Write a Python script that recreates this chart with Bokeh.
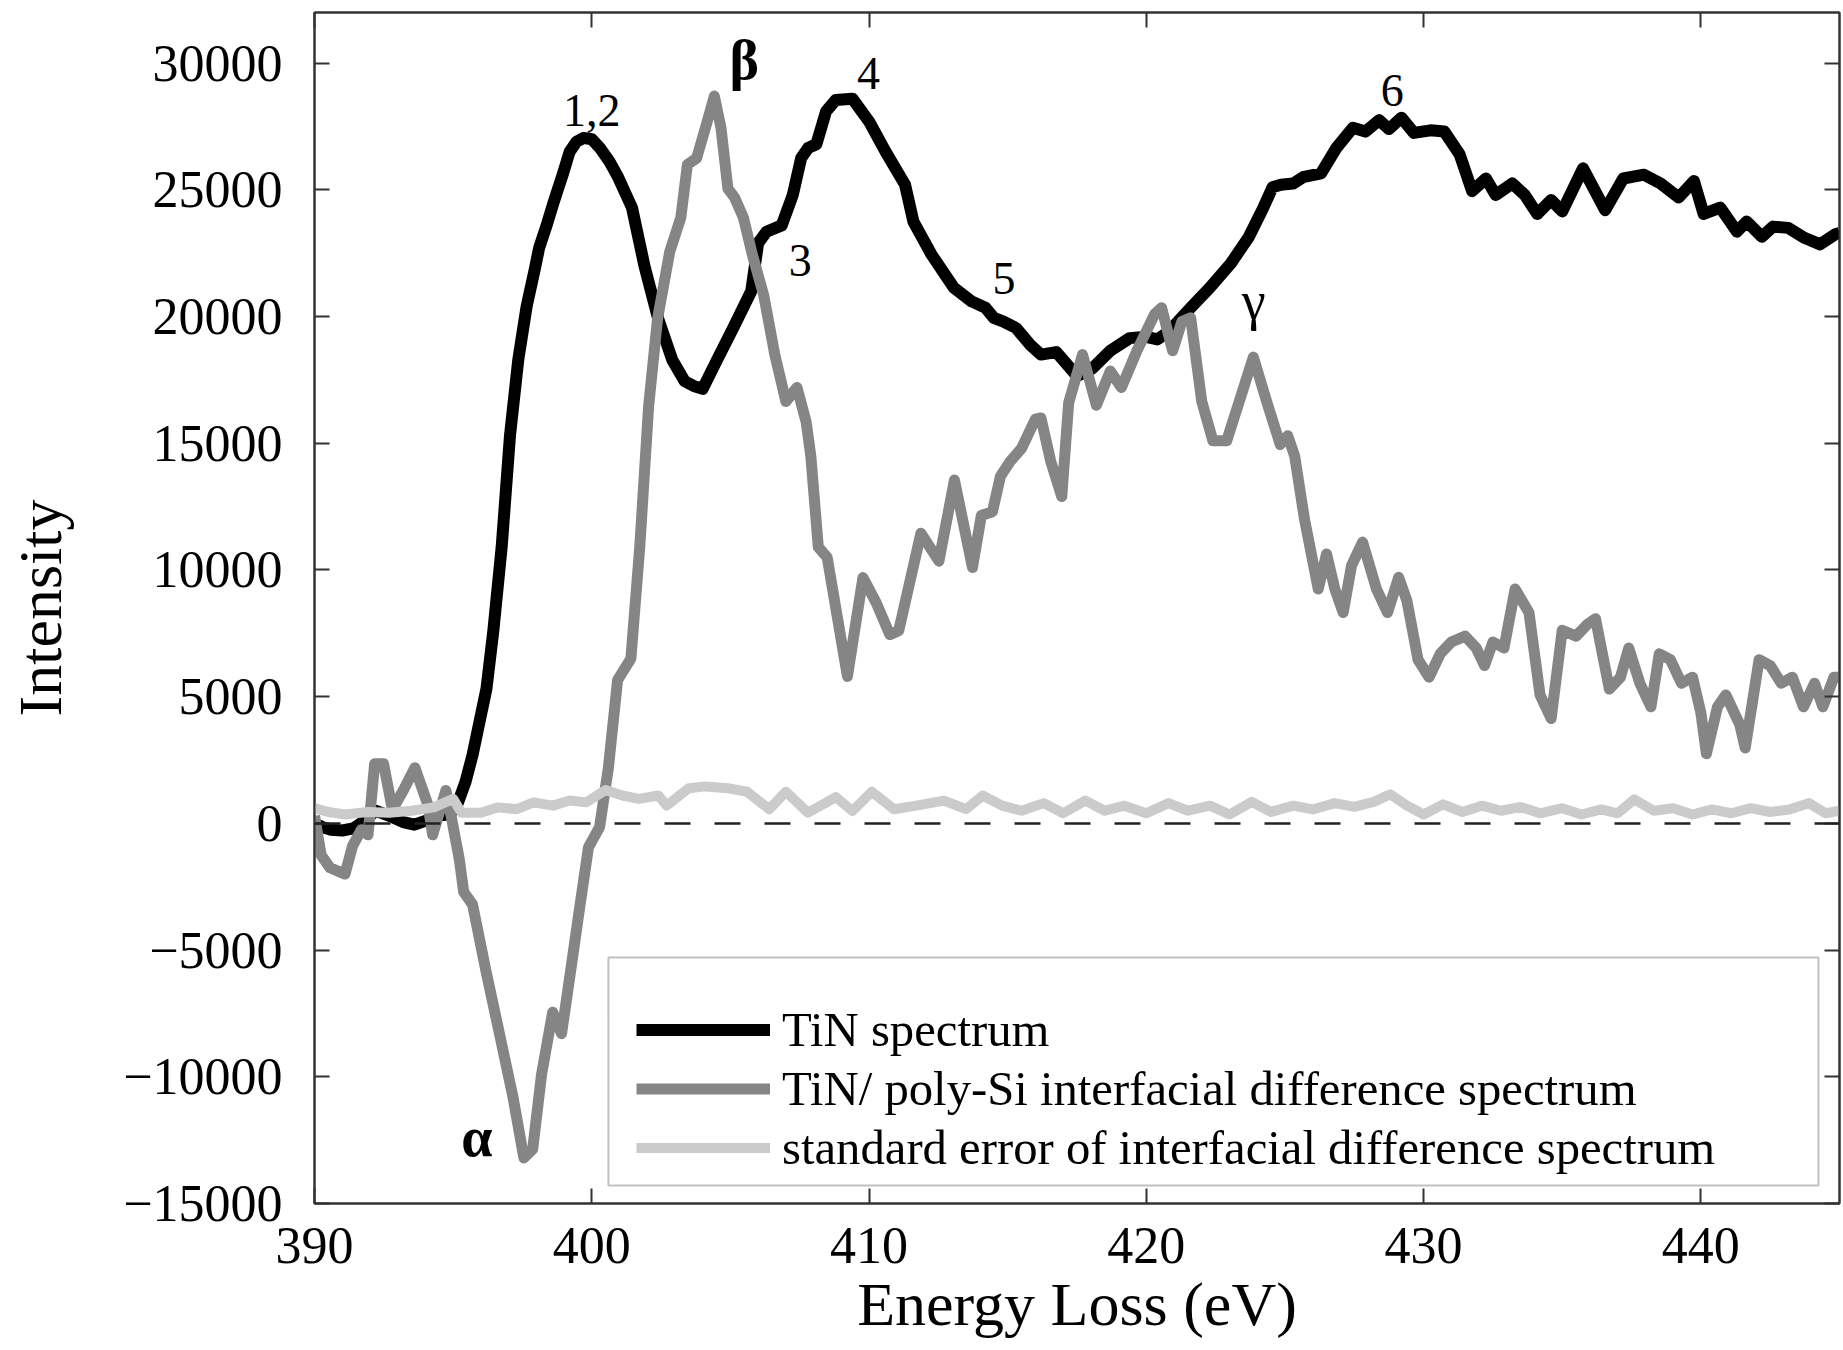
from bokeh.plotting import figure
from bokeh.models import (Range1d, FixedTicker, LinearAxis, Span, Legend, LegendItem, Label,
                          BoxAnnotation, CustomLabelingPolicy)
from bokeh.embed import file_html
from bokeh.resources import INLINE

# ---------------- data ----------------
tin_x = [390.0, 390.3, 390.6, 391.0, 391.4, 391.8, 392.2, 392.7, 393.2, 393.6,
         394.0, 394.4, 394.8, 395.1, 395.45, 395.7, 395.95, 396.2, 396.45, 396.75,
         397.05, 397.35, 397.65, 397.95, 398.1, 398.4, 398.65, 398.95, 399.2, 399.45,
         399.7, 400.0, 400.3, 400.65, 400.95, 401.45, 401.9, 402.4, 402.9, 403.35,
         403.7, 404.0, 404.5, 405.1, 405.75, 406.0, 406.3, 406.85, 407.25, 407.55,
         407.8, 408.1, 408.45, 408.8, 409.4, 410.0, 410.6, 411.3, 411.6, 412.25,
         413.05, 413.7, 414.2, 414.5, 414.85, 415.3, 415.8, 416.2, 416.75, 417.15,
         417.5, 418.05, 418.7, 419.4, 420.0, 420.4, 420.8, 421.6, 422.3, 423.05,
         423.7, 424.2, 424.55, 424.85, 425.3, 425.65, 426.3, 426.85, 427.45, 427.9,
         428.4, 428.75, 429.2, 429.65, 430.25, 430.75, 431.3, 431.75, 432.25, 432.6,
         433.2, 433.65, 434.1, 434.6, 435.0, 435.75, 436.55, 437.2, 437.95, 438.55,
         439.2, 439.75, 440.1, 440.7, 441.3, 441.65, 442.2, 442.6, 443.15, 443.75,
         444.3, 444.85, 445.0]
tin_y = [0, -150, -250, -280, -200, 100, 500, 300, 50, -50,
         100, 300, 350, 600, 1650, 2700, 4000, 5300, 7600, 10900,
         15300, 18300, 20400, 21900, 22700, 23700, 24600, 25600, 26500, 26900,
         27050, 27000, 26650, 26100, 25500, 24300, 22000, 19900, 18300, 17450,
         17250, 17150, 18250, 19550, 21000, 22900, 23350, 23600, 24800, 26250,
         26650, 26800, 28100, 28550, 28600, 27700, 26500, 25200, 23750, 22450,
         21150, 20600, 20350, 19950, 19800, 19550, 18900, 18500, 18600, 18100,
         17650, 17950, 18650, 19150, 19200, 19100, 19400, 20350, 21150, 22100,
         23150, 24250, 25100, 25200, 25250, 25500, 25650, 26650, 27450, 27300,
         27750, 27400, 27850, 27250, 27350, 27300, 26400, 24950, 25450, 24800,
         25250, 24800, 24050, 24600, 24150, 25850, 24200, 25450, 25600, 25250,
         24700, 25350, 24050, 24300, 23350, 23750, 23150, 23550, 23500, 23100,
         22850, 23250, 23300]

diff_x = [390.0, 390.24, 390.56, 391.1, 391.37, 391.69, 391.93, 392.17, 392.49, 392.81,
          393.2, 393.62, 394.1, 394.26, 394.74, 394.9, 395.22, 395.38, 395.7, 396.18,
          396.67, 397.15, 397.55, 397.87, 398.19, 398.59, 398.91, 399.24, 399.56, 399.88,
          400.28, 400.6, 400.93, 401.41, 401.73, 402.05, 402.37, 402.81, 403.21, 403.45,
          403.78, 404.1, 404.42, 404.66, 404.91, 405.15, 405.47, 405.79, 406.2, 406.6,
          407.0, 407.4, 407.73, 407.9, 408.17, 408.49, 409.22, 409.78, 410.26, 410.75,
          411.07, 411.87, 412.52, 413.08, 413.73, 414.05, 414.45, 414.74, 415.1, 415.5,
          416.0, 416.2, 416.55, 416.95, 417.2, 417.7, 418.2, 418.7, 419.1, 419.66,
          420.3, 420.55, 420.95, 421.28, 421.6, 422.0, 422.4, 422.9, 423.86, 424.34,
          424.83, 425.1, 425.35, 425.7, 426.2, 426.5, 426.8, 427.1, 427.4, 427.8,
          428.3, 428.7, 429.1, 429.4, 429.8, 430.2, 430.6, 431.0, 431.5, 431.9,
          432.2, 432.5, 432.9, 433.3, 433.8, 434.2, 434.6, 435.0, 435.5, 435.9,
          436.2, 436.7, 437.1, 437.4, 437.8, 438.2, 438.5, 438.9, 439.3, 439.7,
          440.0, 440.2, 440.6, 440.9, 441.4, 441.6, 442.1, 442.5, 442.9, 443.3,
          443.7, 444.1, 444.4, 444.8, 445.0]
diff_y = [300, -1250, -1750, -2000, -900, -250, -450, 2350, 2350, 550,
          1300, 2200, 700, -450, 1300, 450, -1400, -2700, -3200, -5800,
          -8300, -10750, -13200, -12850, -9900, -7450, -8300, -5800, -3350, -950,
          -150, 2200, 5650, 6500, 10900, 16450, 19900, 22550, 23900, 26000,
          26250, 27450, 28700, 27450, 25050, 24700, 23900, 22450, 20850, 18500,
          16650, 17200, 15850, 14500, 10900, 10500, 5800, 9700, 8700, 7450,
          7600, 11450, 10350, 13550, 10100, 12150, 12300, 13700, 14300, 14800,
          15950, 16000, 14300, 12900, 16600, 18500, 16500, 17850, 17200, 18650,
          20100, 20350, 18650, 19800, 19950, 16650, 15100, 15100, 18400, 16650,
          14950, 15300, 14500, 12030, 9250, 10630, 9250, 8320, 10170, 11100,
          9250, 8320, 9710, 8780, 6460, 5770, 6690, 7160, 7390, 6920,
          6230, 7160, 6920, 9250, 8320, 5070, 4140, 7620, 7390, 7850,
          8080, 5300, 5770, 6920, 5530, 4600, 6690, 6460, 5530, 5770,
          4370, 2750, 4600, 5070, 3910, 2980, 6460, 6230, 5530, 5770,
          4600, 5530, 4600, 5770, 5770]

err_x = [390.0, 390.5, 391.1, 391.9, 392.7, 393.5, 394.3, 395.0, 395.3, 396.0,
         396.6, 397.3, 397.9, 398.6, 399.2, 399.8, 400.5, 401.1, 401.7, 402.4,
         402.7, 403.5, 404.1, 404.9, 405.6, 406.4, 407.0, 407.8, 408.8, 409.4,
         410.1, 410.9, 411.7, 412.7, 413.5, 414.1, 414.8, 415.5, 416.3, 417.0,
         417.8, 418.5, 419.2, 420.0, 420.8, 421.5, 422.3, 423.0, 423.8, 424.5,
         425.3, 426.0, 426.8, 427.5, 428.2, 428.8, 429.4, 430.0, 430.7, 431.4,
         432.1, 432.8, 433.5, 434.2, 435.0, 435.7, 436.4, 437.0, 437.6, 438.3,
         439.0, 439.7, 440.4, 441.1, 441.8, 442.5, 443.2, 443.9, 444.5, 445.0]
err_y = [600, 450, 350, 450, 420, 500, 630, 970, 420, 420,
         630, 560, 830, 700, 900, 830, 1320, 1100, 970, 1100,
         700, 1390, 1460, 1390, 1250, 560, 1250, 420, 1040, 490,
         1250, 560, 700, 900, 560, 1100, 700, 500, 800, 400,
         900, 500, 700, 400, 800, 500, 700, 350, 850, 450,
         700, 550, 800, 650, 850, 1150, 700, 350, 750, 450,
         700, 500, 650, 400, 600, 350, 550, 400, 950, 500,
         600, 350, 550, 400, 600, 450, 550, 800, 400, 500]

zero_level = 0

series_labels = ["TiN spectrum",
                 "TiN/ poly-Si interfacial difference spectrum",
                 "standard error of interfacial difference spectrum"]

x_ticks = [390, 400, 410, 420, 430, 440]
y_ticks = [-15000, -10000, -5000, 0, 5000, 10000, 15000, 20000, 25000, 30000]

peak_text = ["1,2", "3", "4", "5", "6"]
peak_x = [400.0, 407.52, 409.98, 414.87, 428.87]
peak_y = [28150, 22200, 29580, 21520, 28940]

greek_text = ["\u03b1", "\u03b2"]
greek_x = [395.86, 405.5]
greek_y = [-12370, 30120]

gamma_text = "\u03b3"
gamma_x = 423.87
gamma_y = 20600

# legend frame (in data units of the plot)
legend_box = dict(left=400.6, right=444.24, top=-5290, bottom=-14285)

# ---------------- figure ----------------
FONT = "Liberation Serif"
AX = "#333333"

p = figure(width=1843, height=1350,
           x_range=Range1d(390, 445), y_range=Range1d(-15000, 32000),
           output_backend="svg", toolbar_location=None,
           min_border_left=314, min_border_right=4,
           min_border_top=12, min_border_bottom=147)
p.grid.visible = False
p.background_fill_color = "white"
p.border_fill_color = "white"
p.outline_line_color = AX
p.outline_line_width = 2

r_tin = p.line(tin_x, tin_y, line_color="black", line_width=12, line_join="round")
r_diff = p.line(diff_x, diff_y, line_color="#858585", line_width=11, line_join="round")
r_err = p.line(err_x, err_y, line_color="#cbcbcb", line_width=10, line_join="round")

p.add_layout(Span(location=zero_level, dimension="width", line_color="#222222",
                  line_width=2.5, line_dash="26 24"))

def minus(v):
    return ("\u2212" + str(-v)) if v < 0 else str(v)

xax = p.xaxis[0]
yax = p.yaxis[0]
xax.ticker = FixedTicker(ticks=x_ticks)
yax.ticker = FixedTicker(ticks=y_ticks)
yax.major_label_overrides = {v: minus(v) for v in y_ticks}
for ax in (xax, yax):
    ax.axis_line_color = AX
    ax.axis_line_width = 2
    ax.major_tick_line_color = AX
    ax.major_tick_line_width = 2
    ax.major_tick_in = 15
    ax.major_tick_out = 0
    ax.minor_tick_line_color = None
    ax.major_label_text_font = FONT
    ax.major_label_text_font_size = "52px"
    ax.major_label_text_color = "black"
    ax.axis_label_text_font = FONT
    ax.axis_label_text_font_size = "62px"
    ax.axis_label_text_font_style = "normal"
    ax.axis_label_text_color = "black"

xax.axis_label = "Energy Loss (eV)"
xax.major_label_standoff = 24
xax.axis_label_standoff = 4
yax.axis_label = "Intensity"
yax.major_label_standoff = 32
yax.axis_label_standoff = 46

hide_all = CustomLabelingPolicy(
    code="const idx = [...indices]; for (const i of idx) { indices.unset(i) }; return indices")
for loc, rng_ticks in (("right", y_ticks), ("above", x_ticks)):
    a = LinearAxis(ticker=FixedTicker(ticks=rng_ticks),
                   major_label_policy=hide_all,
                   major_label_text_font_size="0px", major_label_standoff=0,
                   major_tick_in=15, major_tick_out=0,
                   major_tick_line_color=AX, major_tick_line_width=2,
                   minor_tick_line_color=None, axis_line_color=AX, axis_line_width=2)
    p.add_layout(a, loc)

# annotations
for t, x, y in zip(peak_text, peak_x, peak_y):
    p.add_layout(Label(x=x, y=y, text=t, text_align="center", text_baseline="alphabetic",
                       text_font=FONT, text_font_size="46px", text_color="black"))
for t, x, y in zip(greek_text, greek_x, greek_y):
    p.add_layout(Label(x=x, y=y, text=t, text_align="center", text_baseline="alphabetic",
                       text_font=FONT, text_font_size="56px", text_font_style="bold",
                       text_color="black"))
p.add_layout(Label(x=gamma_x, y=gamma_y, text=gamma_text, text_align="center",
                   text_baseline="alphabetic", text_font=FONT, text_font_size="54px",
                   text_color="black"))

# legend frame, then the legend itself
p.add_layout(BoxAnnotation(fill_color="white", fill_alpha=1.0,
                           line_color=AX, line_width=2, **legend_box))

legend = Legend(items=[LegendItem(label=series_labels[0], renderers=[r_tin]),
                       LegendItem(label=series_labels[1], renderers=[r_diff]),
                       LegendItem(label=series_labels[2], renderers=[r_err])],
                location=(322, 27), margin=0, padding=10, spacing=2,
                glyph_width=134, glyph_height=57, label_height=57,
                label_standoff=12,
                label_text_font=FONT, label_text_font_size="48.7px", label_text_color="black",
                border_line_color=None, background_fill_alpha=0.0)
p.add_layout(legend)

open("out.html", "w").write(file_html(p, INLINE))
